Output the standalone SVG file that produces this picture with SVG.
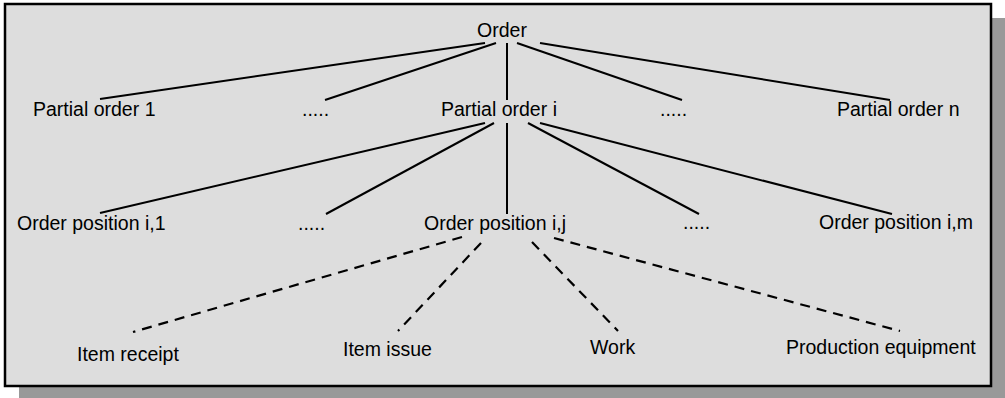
<svg xmlns="http://www.w3.org/2000/svg" width="1005" height="398" viewBox="0 0 1005 398">
<style>
text{font-family:"Liberation Sans",Arial,sans-serif;font-size:19.5px;fill:#000}
.s{stroke:#000;stroke-width:2;fill:none}
.d{stroke:#000;stroke-width:2.2;fill:none;stroke-dasharray:10,7}
</style>
<rect x="19" y="18" width="986" height="382" fill="#999999"/>
<rect x="5" y="4" width="986" height="382" fill="#dddddd" stroke="#000" stroke-width="2.5"/>
<g id="connectors">
<line class="s" x1="485" y1="43" x2="100" y2="99"/>
<line class="s" x1="496" y1="43" x2="325" y2="100"/>
<line class="s" x1="507" y1="43" x2="507" y2="100"/>
<line class="s" x1="517" y1="43" x2="682" y2="100"/>
<line class="s" x1="540" y1="43" x2="890" y2="100"/>
<line class="s" x1="485" y1="123" x2="100" y2="213"/>
<line class="s" x1="494" y1="123" x2="326" y2="214"/>
<line class="s" x1="507" y1="123" x2="507" y2="214"/>
<line class="s" x1="528" y1="123" x2="699" y2="214"/>
<line class="s" x1="540" y1="123" x2="892" y2="214"/>
<line class="d" x1="462" y1="237" x2="133" y2="332"/>
<line class="d" x1="481" y1="243" x2="398" y2="331"/>
<line class="d" x1="532" y1="242" x2="618" y2="331"/>
<line class="d" x1="554" y1="238" x2="900" y2="331"/>
</g>
<g id="order"><text x="502" y="37" text-anchor="middle">Order</text></g>
<g id="partial1"><text x="33" y="116">Partial order 1</text></g>
<g id="dots1"><text x="302" y="116">.....</text></g>
<g id="partiali"><text x="441" y="116">Partial order i</text></g>
<g id="dots2"><text x="660" y="116">.....</text></g>
<g id="partialn"><text x="837" y="116">Partial order n</text></g>
<g id="pos1"><text x="17" y="230">Order position i,1</text></g>
<g id="dots3"><text x="298" y="230">.....</text></g>
<g id="posj"><text x="424" y="230">Order position i,j</text></g>
<g id="dots4"><text x="683" y="229">.....</text></g>
<g id="posm"><text x="819" y="229">Order position i,m</text></g>
<g id="receipt"><text x="77" y="361">Item receipt</text></g>
<g id="issue"><text x="343" y="356">Item issue</text></g>
<g id="work"><text x="590" y="354">Work</text></g>
<g id="equipment"><text x="786" y="354">Production equipment</text></g>
</svg>
